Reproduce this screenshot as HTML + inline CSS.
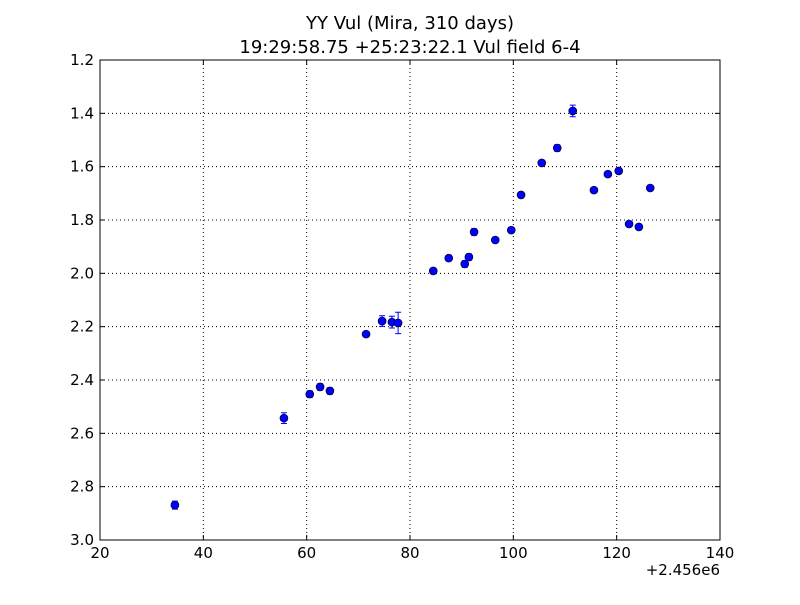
<!DOCTYPE html>
<html><head><meta charset="utf-8"><style>
body{margin:0;background:#fff;}
svg text{font-family:"DejaVu Sans","Liberation Sans",sans-serif;}
</style></head><body>
<svg id="chart" width="800" height="600">
<rect width="800" height="600" fill="#fff"/>
<text x="410" y="29" font-size="18" text-anchor="middle">YY Vul (Mira, 310 days)</text>
<text x="410" y="53" font-size="18" text-anchor="middle">19:29:58.75 +25:23:22.1 Vul field 6-4</text>
<g id="grid"></g><g id="marks"></g><g id="axes"></g>
</svg>
<script>
const xs=[34.5,55.6,60.6,62.6,64.5,71.5,74.6,76.5,77.7,84.5,87.5,90.6,91.4,92.4,96.5,99.6,101.5,105.5,108.5,111.5,115.6,118.3,120.4,122.4,124.3,126.5];
const mags=[2.869,2.543,2.453,2.426,2.441,2.228,2.179,2.183,2.186,1.991,1.943,1.965,1.939,1.845,1.875,1.838,1.706,1.586,1.530,1.391,1.688,1.628,1.616,1.815,1.826,1.680];
const errs=[0.015,0.02,0.012,0.012,0.012,0.01,0.02,0.022,0.04,0.01,0.01,0.012,0.012,0.012,0.01,0.01,0.01,0.01,0.012,0.022,0.01,0.01,0.01,0.01,0.01,0.01];
const xTicks=[20,40,60,80,100,120,140];
const yTicks=[1.2,1.4,1.6,1.8,2.0,2.2,2.4,2.6,2.8,3.0];
const L=100,R=720,T=60,B=540,x0=20,x1=140,y0=1.2,y1=3.0;
const X=v=>L+(v-x0)/(x1-x0)*(R-L);
const Y=v=>T+(v-y0)/(y1-y0)*(B-T);
const NS="http://www.w3.org/2000/svg";
function mk(p,tag,a){const e=document.createElementNS(NS,tag);for(const k in a)e.setAttribute(k,a[k]);document.getElementById(p).appendChild(e);return e;}
xTicks.forEach(t=>{
 const g=mk('grid','line',{x1:X(t),x2:X(t),y1:T,y2:B,stroke:'#000','stroke-dasharray':'1,3','stroke-width':1});
 
 
 mk('axes','line',{x1:X(t),x2:X(t),y1:B,y2:B-5,stroke:'#000'});
 mk('axes','line',{x1:X(t),x2:X(t),y1:T,y2:T+5,stroke:'#000'});
 const tx=mk('axes','text',{x:X(t),y:B+18,'font-size':15,'text-anchor':'middle'});tx.textContent=t;
 
 
});
yTicks.forEach(t=>{
 const g=mk('grid','line',{x1:L,x2:R,y1:Y(t),y2:Y(t),stroke:'#000','stroke-dasharray':'1,3','stroke-width':1});
 
 
 mk('axes','line',{x1:L,x2:L+5,y1:Y(t),y2:Y(t),stroke:'#000'});
 mk('axes','line',{x1:R,x2:R-5,y1:Y(t),y2:Y(t),stroke:'#000'});
 const tx=mk('axes','text',{x:L-6,y:Y(t)+5,'font-size':15,'text-anchor':'end'});tx.textContent=t.toFixed(1);
 
 
});
const fr=mk('axes','rect',{x:L,y:T,width:R-L,height:B-T,fill:'none',stroke:'#000'});


const off=mk('axes','text',{x:720,y:575,'font-size':15,'text-anchor':'end'});off.textContent='+2.456e6';


xs.forEach((v,i)=>{
 const cx=X(v),cy=Y(mags[i]),e1=Y(mags[i]-errs[i]),e2=Y(mags[i]+errs[i]);
 const eb=mk('marks','path',{d:`M${cx},${e1}V${e2}M${cx-3},${e1}H${cx+3}M${cx-3},${e2}H${cx+3}`,stroke:'#0000ff','stroke-width':1,fill:'none'});
 
 
 const c=mk('marks','circle',{cx:cx,cy:cy,r:4,fill:'#0000ff',stroke:'#000','stroke-width':0.6});
 
 
});
</script>
</body></html>
